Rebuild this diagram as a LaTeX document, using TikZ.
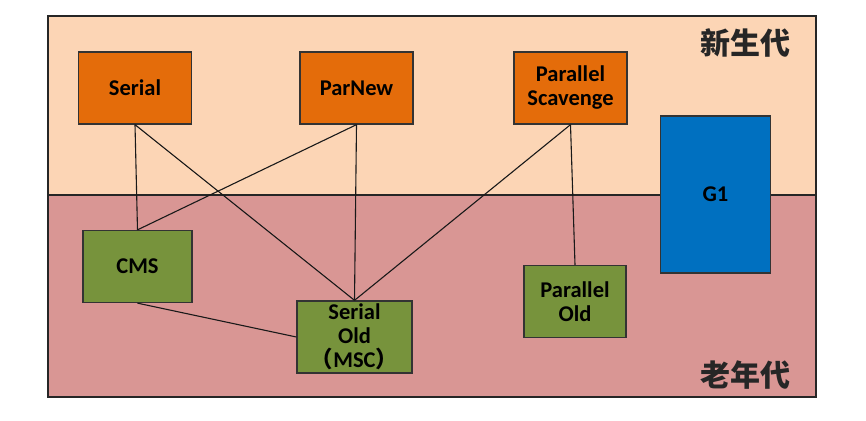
\documentclass[tikz,border=0pt]{standalone}
\usepackage{fontspec}
\setmainfont{Carlito}
\newfontfamily\cjk{Noto Sans CJK SC}
\usetikzlibrary{positioning}
\definecolor{youngfill}{HTML}{FCD5B5}
\definecolor{oldfill}{HTML}{D99694}
\definecolor{newgen}{HTML}{E46C0A}
\definecolor{oldgen}{HTML}{77933C}
\definecolor{gfirst}{HTML}{0070C0}

\begin{document}
\begin{tikzpicture}[x=1pt, y=-1pt,
    every node/.style={align=center},
    region/.style={rectangle, draw=black!85, line width=1.5pt,
                   inner sep=0pt, minimum width=768pt},
    gcbox/.style={rectangle, draw=black!80, line width=1.3pt, inner sep=0pt,
                  text=black, font=\fontsize{22.5}{24}\selectfont\bfseries},
    youngbox/.style={gcbox, fill=newgen, minimum width=113pt, minimum height=72pt},
    oldbox/.style={gcbox, fill=oldgen, minimum height=72pt},
    genlabel/.style={font=\cjk\fontsize{30}{32}\selectfont\bfseries, text=black!85},
    link/.style={line width=1.1pt, black!90}
  ]
  \useasboundingbox[fill=white] (0,0) rectangle (866,420);

  % the two generations
  \node[region, fill=youngfill, minimum height=179pt] (young) at (432,105.5) {};
  \node[region, fill=oldfill, minimum height=202pt] (old) at (432,296) {};
  \node[genlabel] (younglbl) at (745,43) {新生代};
  \node[genlabel] (oldlbl) at (745,375) {老年代};

  % collectors
  \node[youngbox] (serial) at (135,88) {Serial};
  \node[youngbox] (parnew) at (356.5,88) {ParNew};
  \node[youngbox] (pscav) at (570.5,88) {Parallel\\Scavenge};
  \node[gcbox, fill=gfirst, minimum width=110pt, minimum height=157pt] (gone) at (715.5,194.5) {G1};

  \node[oldbox, minimum width=109pt] (cms) at (137.5,266.5) {CMS};
  \node[oldbox, minimum width=115pt] (serold) at (354.5,337) {Serial\\Old\\{\cjk （}MSC{\cjk ）}};
  \node[oldbox, minimum width=102pt] (parold) at (575,301.5) {Parallel\\Old};

  % combinations
  \draw[link] (serial.south) -- (cms.north);
  \draw[link] (serial.south) -- (serold.north);
  \draw[link] (parnew.south) -- (cms.north);
  \draw[link] (parnew.south) -- (serold.north);
  \draw[link] (pscav.south) -- (serold.north);
  \draw[link] (pscav.south) -- (parold.north);
  \draw[link] (cms.south) -- (serold.west);
\end{tikzpicture}
\end{document}
